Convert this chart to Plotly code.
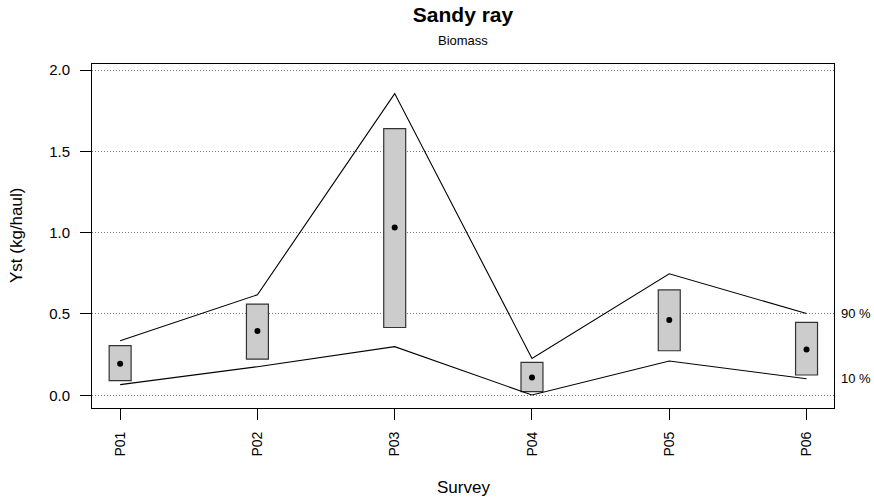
import plotly.graph_objects as go

surveys = ["P01", "P02", "P03", "P04", "P05", "P06"]

# estimated mean biomass per survey
mean_yst = [0.194, 0.395, 1.031, 0.110, 0.463, 0.282]
# box limits (lower / upper)
box_low = [0.090, 0.223, 0.417, 0.023, 0.274, 0.125]
box_high = [0.305, 0.561, 1.640, 0.202, 0.648, 0.448]
# 90 % and 10 % reference lines
q90 = [0.336, 0.618, 1.855, 0.227, 0.747, 0.503]
q10 = [0.066, 0.176, 0.299, 0.002, 0.211, 0.102]

y_ticks = [0.0, 0.5, 1.0, 1.5, 2.0]

font_family = "Liberation Sans, Arial, sans-serif"

fig = go.Figure()

fig.add_trace(
    go.Scatter(
        x=surveys,
        y=q90,
        mode="lines",
        line=dict(color="black", width=1.1),
        name="90 %"
    )
)

fig.add_trace(
    go.Scatter(
        x=surveys,
        y=q10,
        mode="lines",
        line=dict(color="black", width=1.1),
        name="10 %"
    )
)

fig.add_trace(
    go.Bar(
        x=surveys,
        y=[h - l for h, l in zip(box_high, box_low)],
        base=box_low,
        width=0.16,
        marker=dict(color="#cccccc", line=dict(color="#333333", width=1.2)),
        name="box"
    )
)

fig.add_trace(
    go.Scatter(
        x=surveys,
        y=mean_yst,
        mode="markers",
        marker=dict(color="black", size=6),
        name="mean"
    )
)

# labels for the reference lines, right of the panel
fig.add_annotation(
    x=1, xref="paper", xanchor="left", xshift=5,
    y=q90[-1], yref="y",
    text="90 %", showarrow=False,
    font=dict(size=13, color="black")
)
fig.add_annotation(
    x=1, xref="paper", xanchor="left", xshift=5,
    y=q10[-1], yref="y",
    text="10 %", showarrow=False,
    font=dict(size=13, color="black")
)

fig.add_annotation(
    x=0.5, xref="paper", y=1, yref="paper", yshift=24, yanchor="middle",
    text="Biomass", showarrow=False,
    font=dict(size=13, color="black")
)

# axis titles
fig.add_annotation(
    x=0.5, xref="paper", y=0, yref="paper", yshift=-79, yanchor="middle",
    text="Survey", showarrow=False,
    font=dict(size=17, color="black")
)
fig.add_annotation(
    x=0, xref="paper", xshift=-76, xanchor="center",
    y=0.5, yref="paper", textangle=-90,
    text="Yst (kg/haul)", showarrow=False,
    font=dict(size=17, color="black")
)

fig.update_layout(
    width=874,
    height=499,
    margin=dict(l=92, r=40, t=64, b=91),
    paper_bgcolor="white",
    plot_bgcolor="white",
    showlegend=False,
    font=dict(family=font_family, color="black", size=13),
    title=dict(
        text="<b>Sandy ray</b>",
        x=0.5, xref="paper", xanchor="center",
        y=0.985, yref="container", yanchor="top",
        font=dict(size=21, color="black")
    ),
    xaxis=dict(
        type="category",
        range=[-0.205, 5.2],
        tickangle=-90,
        ticks="outside",
        ticklen=11,
        tickcolor="black",
        ticklabelstandoff=6,
        showgrid=False,
        showline=True,
        linecolor="black",
        linewidth=1,
        mirror=True,
        automargin=False,
        tickfont=dict(size=14)
    ),
    yaxis=dict(
        range=[-0.078, 2.037],
        tickvals=y_ticks,
        ticktext=["%.1f" % v for v in y_ticks],
        ticks="outside",
        ticklen=11,
        tickcolor="black",
        ticklabelstandoff=7,
        showgrid=True,
        gridcolor="#777777",
        griddash="1px,2px",
        gridwidth=1,
        zeroline=False,
        showline=True,
        linecolor="black",
        linewidth=1,
        mirror=True,
        automargin=False,
        tickfont=dict(size=15)
    )
)

fig.write_html(
    "out.html",
    config={"displayModeBar": False},
    post_script="document.body.style.margin='0';"
)
